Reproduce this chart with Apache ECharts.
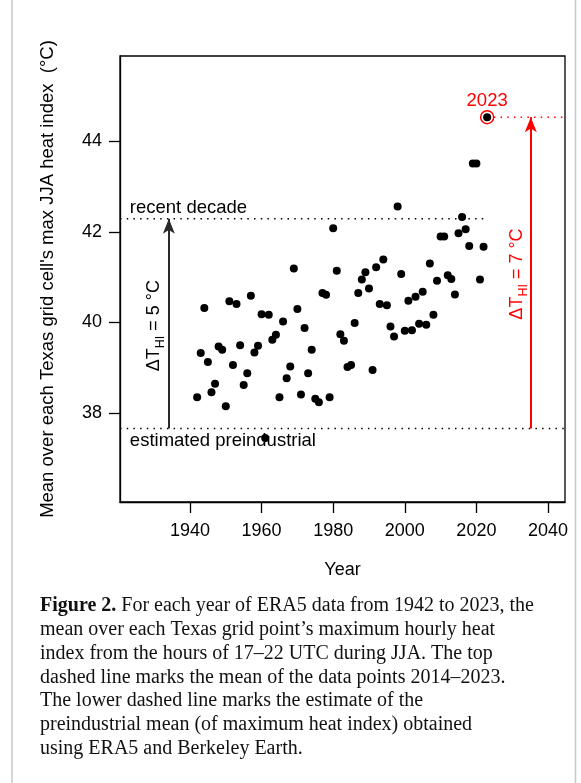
<!DOCTYPE html>
<html>
<head>
<meta charset="utf-8">
<script src="https://cdn.jsdelivr.net/npm/echarts@6.0.0/dist/echarts.min.js"></script>
<style>
  html, body { margin: 0; padding: 0; background: #fff; }
  #chart { width: 581px; height: 783px; }
</style>
</head>
<body>
<div id="chart"></div>
<script>
// ERA5 years and the Texas-mean of each grid cell's max JJA heat index (°C)
const years = [
  1942, 1943, 1944, 1945, 1946, 1947, 1948, 1949, 1950, 1951,
  1952, 1953, 1954, 1955, 1956, 1957, 1958, 1959, 1960, 1961,
  1962, 1963, 1964, 1965, 1966, 1967, 1968, 1969, 1970, 1971,
  1972, 1973, 1974, 1975, 1976, 1977, 1978, 1979, 1980, 1981,
  1982, 1983, 1984, 1985, 1986, 1987, 1988, 1989, 1990, 1991,
  1992, 1993, 1994, 1995, 1996, 1997, 1998, 1999, 2000, 2001,
  2002, 2003, 2004, 2005, 2006, 2007, 2008, 2009, 2010, 2011,
  2012, 2013, 2014, 2015, 2016, 2017, 2018, 2019, 2020, 2021,
  2022, 2023
];
const heatIndex = [
  38.35, 39.33, 40.32, 39.13, 38.46, 38.65, 39.47, 39.40, 38.15, 40.47,
  39.06, 40.41, 39.50, 38.62, 38.88, 40.59, 39.34, 39.49, 40.18, 37.45,
  40.17, 39.62, 39.73, 38.35, 40.02, 38.77, 39.03, 41.19, 40.30, 38.41,
  39.88, 38.88, 39.40, 38.32, 38.24, 40.65, 40.61, 38.35, 42.08, 41.14,
  39.74, 39.60, 39.02, 39.06, 39.99, 40.65, 40.95, 41.11, 40.75, 38.95,
  41.22, 40.41, 41.39, 40.38, 39.91, 39.69, 42.56, 41.07, 39.82, 40.48,
  39.83, 40.57, 39.97, 40.68, 39.95, 41.30, 40.17, 40.92, 41.90, 41.90,
  41.04, 40.96, 40.62, 41.97, 42.33, 42.06, 41.69, 43.51, 43.51, 40.95,
  41.67, 44.53
];
const xTicks = [1940, 1960, 1980, 2000, 2020, 2040];
const yTicks = [38, 40, 42, 44];

// reference levels
const recentDecadeMean = 42.29;   // mean of 2014–2023
const preindustrialMean = 37.66;  // preindustrial estimate
const highlightYear = 2023;
const highlightValue = 44.53;

// axis extents and annotation anchors (data units)
const xRange = [1920.45, 2044.75];
const yRange = [36.04, 45.88];
const blackArrowYear = 1934.1;
const redArrowYear = 2035.2;
const textStartYear = 1923.2;
const blackDeltaAnchor = [1930.6, 39.93];
const redDeltaAnchor = [2031.9, 41.07];

const captionLines = [
  ['Figure 2.', ' For each year of ERA5 data from 1942 to 2023, the'],
  ['', 'mean over each Texas grid point\u2019s maximum hourly heat'],
  ['', 'index from the hours of 17\u201322 UTC during JJA. The top'],
  ['', 'dashed line marks the mean of the data points 2014\u20132023.'],
  ['', 'The lower dashed line marks the estimate of the'],
  ['', 'preindustrial mean (of maximum heat index) obtained'],
  ['', 'using ERA5 and Berkeley Earth.']
];

const SANS = "'Liberation Sans', Arial, Helvetica, sans-serif";
const SERIF = "'Liberation Serif', 'Times New Roman', serif";
const RED = '#ff0000';

const chart = echarts.init(document.getElementById('chart'), null, { renderer: 'canvas' });

const dotted = (color) => ({ color: color, width: 1.5, type: [1.5, 5.2] });
const plain = (v) => String(v);

const option = {
  animation: false,
  backgroundColor: '#fff',
  grid: {
    left: 120, right: 16, top: 56, bottom: 281,
    show: true, borderColor: '#000', borderWidth: 1.3, backgroundColor: 'transparent'
  },
  xAxis: {
    type: 'value', min: xRange[0], max: xRange[1],
    name: 'Year', nameLocation: 'middle', nameGap: 59,
    nameTextStyle: { fontFamily: SANS, fontSize: 18, color: '#000' },
    axisLine: { show: true, onZero: false, lineStyle: { color: '#000', width: 1.3 } },
    axisTick: { show: true, customValues: xTicks, length: 11, lineStyle: { color: '#000', width: 1.3 } },
    axisLabel: { customValues: xTicks, formatter: plain, margin: 20, fontFamily: SANS, fontSize: 18, color: '#000' },
    splitLine: { show: false }
  },
  yAxis: {
    type: 'value', min: yRange[0], max: yRange[1],
    name: 'Mean over each Texas grid cell\'s max JJA heat index  (°C)',
    nameLocation: 'middle', nameGap: 63,
    nameTextStyle: { fontFamily: SANS, fontSize: 18.5, color: '#000' },
    axisLine: { show: true, onZero: false, lineStyle: { color: '#000', width: 1.3 } },
    axisTick: { show: true, customValues: yTicks, length: 11, lineStyle: { color: '#000', width: 1.3 } },
    axisLabel: { customValues: yTicks, formatter: plain, margin: 18, fontFamily: SANS, fontSize: 18, color: '#000' },
    splitLine: { show: false }
  },
  series: [
    {
      name: 'recent decade', type: 'line', symbol: 'none', z: 2, silent: true,
      lineStyle: dotted('#000'),
      data: [[xRange[0], recentDecadeMean], [highlightYear, recentDecadeMean]]
    },
    {
      name: 'preindustrial', type: 'line', symbol: 'none', z: 2, silent: true,
      lineStyle: dotted('#000'),
      data: [[xRange[0], preindustrialMean], [xRange[1], preindustrialMean]]
    },
    {
      name: 'latest level', type: 'line', symbol: 'none', z: 2, silent: true,
      lineStyle: dotted(RED),
      data: [[highlightYear, highlightValue], [xRange[1], highlightValue]]
    },
    {
      name: 'arrows', type: 'line', data: [], z: 3, silent: true,
      markLine: {
        silent: true, animation: false,
        symbol: ['none', 'arrow'], symbolSize: [9, 15],
        label: { show: false },
        lineStyle: { type: 'solid', width: 2 },
        data: [
          [
            { coord: [blackArrowYear, preindustrialMean], lineStyle: { color: '#2a2a2a' }, itemStyle: { color: '#2a2a2a' } },
            { coord: [blackArrowYear, recentDecadeMean] }
          ],
          [
            { coord: [redArrowYear, preindustrialMean], lineStyle: { color: RED }, itemStyle: { color: RED } },
            { coord: [redArrowYear, highlightValue] }
          ]
        ]
      }
    },
    {
      name: 'highlight ring', type: 'scatter', z: 4, silent: true,
      symbol: 'circle', symbolSize: 13,
      itemStyle: { color: '#fff', borderColor: RED, borderWidth: 1.5, opacity: 1 },
      label: {
        show: true, position: 'top', distance: 0, formatter: String(highlightYear),
        color: RED, fontFamily: SANS, fontSize: 18.5
      },
      data: [[highlightYear, highlightValue]]
    },
    {
      name: 'heat index', type: 'scatter', z: 5,
      symbol: 'circle', symbolSize: 8,
      itemStyle: { color: '#000', opacity: 1 },
      data: years.map((y, i) => [y, heatIndex[i]])
    }
  ]
};

chart.setOption(option);

// text annotations placed from data coordinates
const px = (p) => chart.convertToPixel({ gridIndex: 0 }, p);
const recentPt = px([textStartYear, recentDecadeMean]);
const prePt = px([textStartYear, preindustrialMean]);
const blackPt = px(blackDeltaAnchor);
const redPt = px(redDeltaAnchor);

const deltaRich = (color) => ({
  d: { fontFamily: SANS, fontSize: 18, lineHeight: 18, verticalAlign: 'top', fill: color },
  s: { fontFamily: SANS, fontSize: 12.5, lineHeight: 22, verticalAlign: 'bottom', fill: color }
});

const graphics = [
  {
    type: 'text', x: recentPt[0], y: recentPt[1] - 1, silent: true,
    style: { text: 'recent decade', fill: '#000', fontFamily: SANS, fontSize: 18.5,
             align: 'left', verticalAlign: 'bottom' }
  },
  {
    type: 'text', x: prePt[0], y: prePt[1] + 3, silent: true,
    style: { text: 'estimated preindustrial', fill: '#000', fontFamily: SANS, fontSize: 18.5,
             align: 'left', verticalAlign: 'top' }
  },
  {
    type: 'text', x: blackPt[0], y: blackPt[1], rotation: Math.PI / 2, silent: true,
    style: { text: '{d|\u0394T}{s|HI}{d| = 5 °C}', rich: deltaRich('#000'),
             align: 'center', verticalAlign: 'middle' }
  },
  {
    type: 'text', x: redPt[0], y: redPt[1], rotation: Math.PI / 2, silent: true,
    style: { text: '{d|\u0394T}{s|HI}{d| = 7 °C}', rich: deltaRich(RED),
             align: 'center', verticalAlign: 'middle' }
  },
  // page frame
  { type: 'line', silent: true, shape: { x1: 12, y1: 0, x2: 12, y2: 783 },
    style: { stroke: '#c8c8c8', lineWidth: 1.5 } },
  { type: 'line', silent: true, shape: { x1: 575.5, y1: 0, x2: 575.5, y2: 783 },
    style: { stroke: '#c8c8c8', lineWidth: 1.5 } }
];

// caption
captionLines.forEach((ln, i) => {
  const bold = ln[0] ? '{b|' + ln[0] + '}' : '';
  graphics.push({
    type: 'text', x: 40, y: 606 + i * 23.8, silent: true,
    style: {
      text: bold + '{r|' + ln[1] + '}',
      rich: {
        b: { fontFamily: SERIF, fontSize: 20, fontWeight: 'bold', fill: '#111' },
        r: { fontFamily: SERIF, fontSize: 20, fill: '#111' }
      },
      align: 'left', verticalAlign: 'middle'
    }
  });
});

chart.setOption({ graphic: graphics });
</script>
</body>
</html>
